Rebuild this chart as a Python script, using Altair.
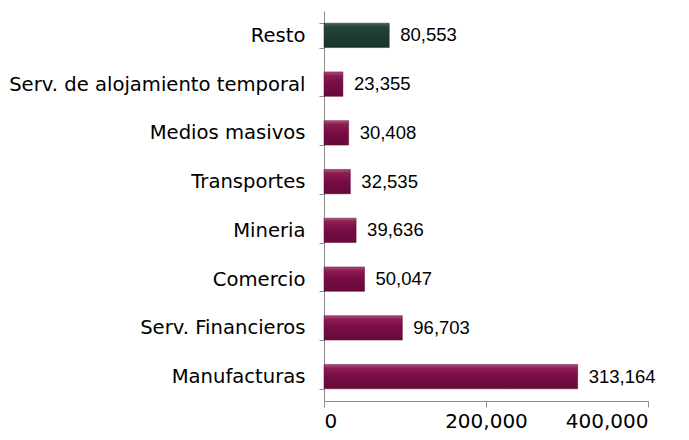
import altair as alt
import pandas as pd

categories = ["Resto", "Serv. de alojamiento temporal", "Medios masivos", "Transportes",
              "Mineria", "Comercio", "Serv. Financieros", "Manufacturas"]
values = [80553, 23355, 30408, 32535, 39636, 50047, 96703, 313164]
groups = ["resto", "sector", "sector", "sector", "sector", "sector", "sector", "sector"]
x_ticks = [0, 200000, 400000]

df = pd.DataFrame({"cat": categories, "val": values, "grp": groups})

LABEL_FONT = "DejaVu Sans"
VALUE_FONT = "Liberation Sans"

maroon = alt.LinearGradient(gradient="linear", x1=0, x2=0, y1=0, y2=1, stops=[
    alt.GradientStop(color="#b05282", offset=0),
    alt.GradientStop(color="#8c1c54", offset=0.15),
    alt.GradientStop(color="#7a0d45", offset=0.45),
    alt.GradientStop(color="#66093a", offset=1),
])
green = alt.LinearGradient(gradient="linear", x1=0, x2=0, y1=0, y2=1, stops=[
    alt.GradientStop(color="#46665a", offset=0),
    alt.GradientStop(color="#25443a", offset=0.15),
    alt.GradientStop(color="#1e3c32", offset=0.5),
    alt.GradientStop(color="#18332a", offset=1),
])

y_enc = alt.Y("cat:N", sort=categories, title=None,
              scale=alt.Scale(paddingInner=0.5, paddingOuter=0.25),
              axis=alt.Axis(tickBand="extent", labelFont=LABEL_FONT, labelFontSize=19.6,
                            labelColor="#000000", labelPadding=14, tickSize=5,
                            domainColor="#8c8c8c", tickColor="#8c8c8c", labelLimit=400))
x_enc = alt.X("val:Q", title=None,
              scale=alt.Scale(domain=[0, 400000], nice=False),
              axis=alt.Axis(values=x_ticks, format=",d", labelFont=LABEL_FONT, labelFontSize=20,
                            labelColor="#000000", domain=True, domainColor="#8c8c8c",
                            grid=False, tickSize=6, tickColor="#8c8c8c", labelPadding=4))

base = alt.Chart(df)

bars_sector = base.transform_filter(alt.datum.grp == "sector").mark_bar(
    color=maroon, stroke="#5a0a30", strokeWidth=0.5).encode(y=y_enc, x=x_enc)
bars_resto = base.transform_filter(alt.datum.grp == "resto").mark_bar(
    color=green, stroke="#142c24", strokeWidth=0.5).encode(y=y_enc, x=x_enc)
labels = base.mark_text(align="left", baseline="middle", dx=11, font=VALUE_FONT,
                        fontSize=18.5, color="#000000").encode(
    y=y_enc, x=x_enc, text=alt.Text("val:Q", format=",d"))

chart = alt.layer(bars_sector, bars_resto, labels).properties(
    width=324, height=390, background="#ffffff",
    padding={"top": -7, "left": 0, "right": 5, "bottom": 5},
).configure_view(strokeWidth=0, stroke="transparent")

chart.save("out.html", embed_options={"renderer": "svg", "actions": False})
